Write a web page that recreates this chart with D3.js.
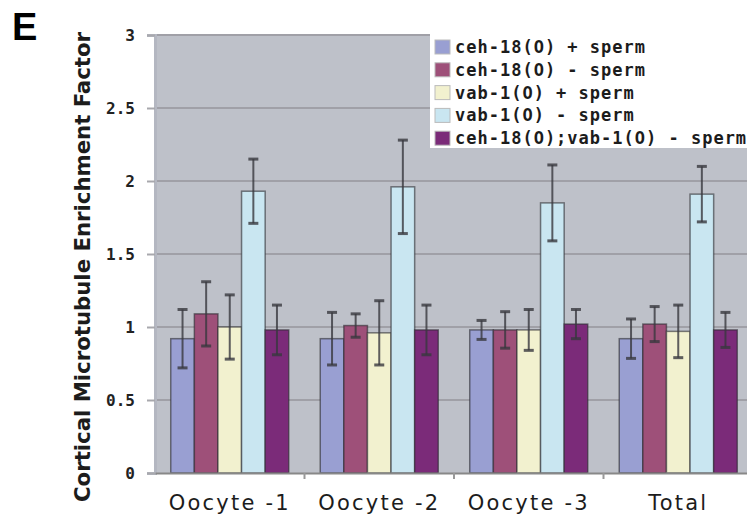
<!DOCTYPE html>
<html>
<head>
<meta charset="utf-8">
<script src="https://cdn.jsdelivr.net/npm/d3@7"></script>
<style>
  body { margin: 0; background: #fff; }
  svg { display: block; }
</style>
</head>
<body>
<svg id="chart" width="747" height="515"></svg>
<script>
// data
const categories = ['Oocyte -1', 'Oocyte -2', 'Oocyte -3', 'Total']
const seriesNames = ['ceh-18(O) + sperm', 'ceh-18(O) - sperm', 'vab-1(O) + sperm', 'vab-1(O) - sperm', 'ceh-18(O);vab-1(O) - sperm']
const seriesColors = ['#999fd2', '#9e5079', '#f2f1cf', '#c9e6f1', '#7b2b79']
const ceh18Plus = [0.92, 0.92, 0.98, 0.92]
const ceh18Minus = [1.09, 1.01, 0.98, 1.02]
const vab1Plus = [1.00, 0.96, 0.98, 0.97]
const vab1Minus = [1.93, 1.96, 1.85, 1.91]
const doubleMinus = [0.98, 0.98, 1.02, 0.98]
const ceh18PlusErr = [0.20, 0.18, 0.065, 0.135]
const ceh18MinusErr = [0.22, 0.08, 0.125, 0.12]
const vab1PlusErr = [0.22, 0.22, 0.14, 0.18]
const vab1MinusErr = [0.22, 0.32, 0.26, 0.19]
const doubleMinusErr = [0.17, 0.17, 0.10, 0.12]
const yTicks = [0, 0.5, 1, 1.5, 2, 2.5, 3]

const values = [ceh18Plus, ceh18Minus, vab1Plus, vab1Minus, doubleMinus]
const errors = [ceh18PlusErr, ceh18MinusErr, vab1PlusErr, vab1MinusErr, doubleMinusErr]

const rows = []
categories.forEach((c, ci) => {
    seriesNames.forEach((s, si) => {
        rows.push({cat: c, series: s, si: si, value: values[si][ci], err: errors[si][ci]})
    })
})

const svg = d3.select('#chart')
const plotLeft = 155, plotTop = 35, plotBottom = 473, plotRight = 753

const xScale = d3.scaleBand().domain(categories).range([plotLeft, plotRight]).padding(0)
const xInner = d3.scaleBand().domain(seriesNames).range([0, xScale.bandwidth()])
                 .paddingInner(0).paddingOuter(0.667)
const yScale = d3.scaleLinear().domain([0, 3]).range([plotBottom, plotTop])

// plot background
svg.append('rect')
   .attr('x', plotLeft).attr('y', plotTop)
   .attr('width', 747 - plotLeft).attr('height', plotBottom - plotTop)
   .attr('fill', '#bec1c9')

// gridlines
svg.append('g')
   .selectAll('line')
   .data(yTicks.filter(t => t > 0))
   .enter()
   .append('line')
   .attr('x1', plotLeft).attr('x2', 747)
   .attr('y1', d => yScale(d)).attr('y2', d => yScale(d))
   .attr('stroke', '#a0a0a7')
   .attr('stroke-width', 2)

// bars
svg.append('g')
   .selectAll('rect')
   .data(rows)
   .enter()
   .append('rect')
   .attr('x', d => xScale(d.cat) + xInner(d.series))
   .attr('y', d => yScale(d.value))
   .attr('width', xInner.bandwidth())
   .attr('height', d => plotBottom - yScale(d.value))
   .attr('fill', d => seriesColors[d.si])
   .attr('stroke', '#2b2b30')
   .attr('stroke-opacity', 0.6)
   .attr('stroke-width', 1.5)

// error bars
const eb = svg.append('g')
   .selectAll('g')
   .data(rows)
   .enter()
   .append('g')
   .attr('stroke', '#38383e')
   .attr('stroke-opacity', 0.8)
   .attr('stroke-width', 2)
eb.append('line')
  .attr('x1', d => xScale(d.cat) + xInner(d.series) + xInner.bandwidth() / 2)
  .attr('x2', d => xScale(d.cat) + xInner(d.series) + xInner.bandwidth() / 2)
  .attr('y1', d => yScale(d.value + d.err))
  .attr('y2', d => yScale(d.value - d.err))
eb.selectAll('.cap')
  .data(d => [d.value + d.err, d.value - d.err].map(v => ({v: v, d: d})))
  .enter()
  .append('line')
  .attr('class', 'cap')
  .attr('x1', o => xScale(o.d.cat) + xInner(o.d.series) + xInner.bandwidth() / 2 - 5)
  .attr('x2', o => xScale(o.d.cat) + xInner(o.d.series) + xInner.bandwidth() / 2 + 5)
  .attr('y1', o => yScale(o.v))
  .attr('y2', o => yScale(o.v))
  .attr('stroke-width', 3)

// y axis
const yAxis = d3.axisLeft(yScale).tickValues(yTicks).tickFormat(d3.format('')).tickSize(8).tickPadding(12)
const yg = svg.append('g').attr('transform', 'translate(' + plotLeft + ',0)').call(yAxis)
yg.select('.domain').attr('stroke', '#b4b7c1').attr('stroke-width', 3)
yg.selectAll('.tick line').attr('stroke', '#a8a8ad').attr('stroke-width', 2)
yg.selectAll('.tick text')
  .attr('font-family', 'DejaVu Sans Mono')
  .attr('font-weight', 'bold')
  .attr('font-size', 16)
  .attr('fill', '#222')

// x axis
const xAxis = d3.axisBottom(xScale).tickSize(0).tickPadding(22)
const xg = svg.append('g').attr('transform', 'translate(0,' + plotBottom + ')').call(xAxis)
xg.select('.domain').attr('stroke', '#888').attr('stroke-width', 2)
xg.selectAll('.tick text')
  .attr('font-family', 'DejaVu Sans')
  .attr('font-size', 21)
  .attr('fill', '#1c1c1c')
  .attr('letter-spacing', 2.2)
xg.selectAll('.sep')
  .data(categories.slice(1))
  .enter()
  .append('line')
  .attr('x1', d => xScale(d)).attr('x2', d => xScale(d))
  .attr('y1', 0).attr('y2', 6)
  .attr('stroke', '#999').attr('stroke-width', 2)

// y title
svg.append('text')
   .attr('transform', 'translate(90,267) rotate(-90)')
   .attr('text-anchor', 'middle')
   .attr('font-family', 'DejaVu Sans Condensed, DejaVu Sans')
   .attr('font-weight', 'bold')
   .attr('font-size', 22)
   .attr('fill', '#1c1c1c')
   .attr('textLength', 470)
   .attr('lengthAdjust', 'spacingAndGlyphs')
   .text('Cortical Microtubule Enrichment Factor')

// panel letter
svg.append('text')
   .attr('x', 12).attr('y', 40)
   .attr('font-family', 'Liberation Sans')
   .attr('font-weight', 'bold')
   .attr('font-size', 38)
   .attr('fill', '#000')
   .text('E')

// legend
const legend = svg.append('g')
legend.append('rect')
      .attr('x', 430).attr('y', 32)
      .attr('width', 317).attr('height', 116)
      .attr('fill', '#fff')
const li = legend.selectAll('.item')
      .data(seriesNames)
      .enter()
      .append('g')
      .attr('transform', (d, i) => 'translate(435,' + (47 + i * 22.8) + ')')
li.append('rect')
  .attr('x', 0).attr('y', -7)
  .attr('width', 15).attr('height', 14)
  .attr('fill', (d, i) => seriesColors[i])
  .attr('stroke', '#bbb').attr('stroke-width', 1)
li.append('text')
  .attr('x', 20).attr('y', 6)
  .attr('font-family', 'DejaVu Sans Mono')
  .attr('font-weight', 'bold')
  .attr('font-size', 17)
  .attr('letter-spacing', 1)
  .attr('fill', '#1c1c1c')
  .text(d => d)
</script>
</body>
</html>
